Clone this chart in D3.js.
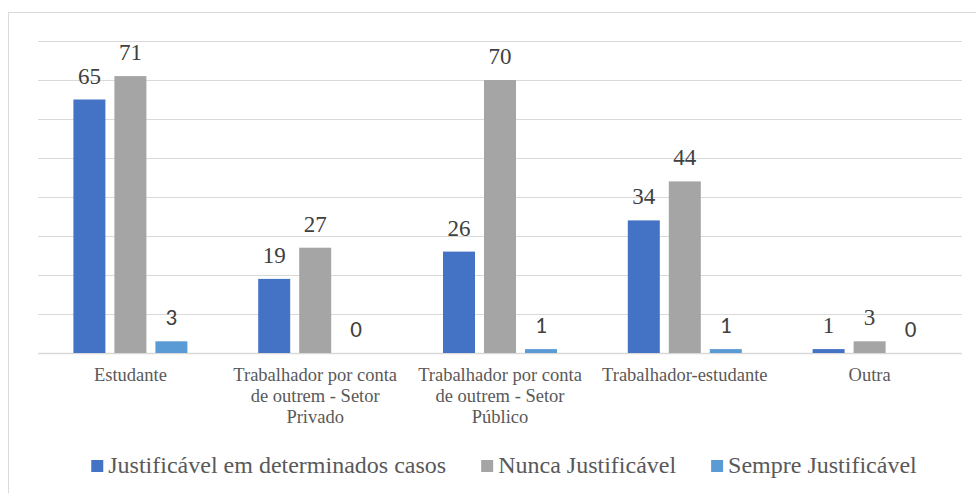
<!DOCTYPE html>
<html><head><meta charset="utf-8">
<script src="https://cdn.jsdelivr.net/npm/d3@7"></script>
<style>
body{margin:0;background:#fff;}
svg{display:block;font-family:"Liberation Serif","Times New Roman",serif;}
svg text.sans{font-family:Carlito,Calibri,sans-serif;}
</style>
</head><body>
<svg id="c" width="976" height="493"></svg>
<script>
const categories = ["Estudante","Trabalhador por conta de outrem - Setor Privado","Trabalhador por conta de outrem - Setor Público","Trabalhador-estudante","Outra"];
const seriesNames = ["Justificável em determinados casos","Nunca Justificável","Sempre Justificável"];
const justificavel = [65,19,26,34,1];
const nunca = [71,27,70,44,3];
const sempre = [3,0,1,1,0];
const yTicks = [0,10,20,30,40,50,60,70,80];
const colors = ["#4472C4","#A5A5A5","#5B9BD5"];

const seriesValues = [justificavel, nunca, sempre];
const svg = d3.select("#c");
const plot = {l:38, r:962, t:41, b:353};

svg.append("rect").attr("x",8.5).attr("y",12.5).attr("width",1000).attr("height",600)
  .attr("fill","none").attr("stroke","#D9D9D9").attr("stroke-width",1);

const y = d3.scaleLinear().domain([0,80]).range([plot.b, plot.t]);
const x0 = d3.scaleBand().domain(categories).range([plot.l, plot.r]).paddingInner(0).paddingOuter(0);
const groupW = 114;
const x1 = d3.scaleBand().domain(d3.range(3)).range([0, groupW]).paddingInner(9/41).paddingOuter(0);
const off = (x0.bandwidth()-groupW)/2;

svg.append("g").selectAll("line").data(yTicks).join("line")
  .attr("x1",plot.l).attr("x2",plot.r)
  .attr("y1",d=>Math.round(y(d))+0.5).attr("y2",d=>Math.round(y(d))+0.5)
  .attr("stroke","#D9D9D9").attr("stroke-width",d=>d===0?1.5:1.2);

const groups = svg.append("g").selectAll("g").data(categories).join("g")
  .attr("transform",c=>`translate(${x0(c)+off},0)`);
groups.each(function(c,ci){
  const g = d3.select(this);
  const data = seriesValues.map((s,si)=>({si, v:s[ci]}));
  g.selectAll("rect").data(data).join("rect")
    .attr("x",d=>x1(d.si)).attr("width",x1.bandwidth())
    .attr("y",d=>y(d.v)).attr("height",d=>y(0)-y(d.v))
    .attr("fill",d=>colors[d.si]);
  g.selectAll("text").data(data).join("text")
    .attr("class",d=>d.si===2?"sans":null)
    .attr("x",d=>x1(d.si)+x1.bandwidth()/2)
    .attr("y",d=>y(d.v)-16)
    .attr("text-anchor","middle")
    .attr("font-size",23)
    .attr("fill","#404040")
    .text(d=>d.v);
});

const catG = svg.append("g");
categories.forEach(c=>{
  const cx = x0(c)+x0.bandwidth()/2;
  const t = catG.append("text")
    .attr("x",cx).attr("y",381)
    .attr("text-anchor","middle")
    .attr("font-size",18.5).attr("fill","#595959");
  const words = c.split(" ");
  let line=[];
  let ts = t.append("tspan").attr("x",cx).attr("dy",0);
  words.forEach(w=>{
    line.push(w);
    ts.text(line.join(" "));
    if(ts.node().getComputedTextLength()>172 && line.length>1){
      line.pop(); ts.text(line.join(" "));
      line=[w];
      ts = t.append("tspan").attr("x",cx).attr("dy",21).text(w);
    }
  });
});

const leg = svg.append("g");
const items = seriesNames.map((n,i)=>{
  const g = leg.append("g");
  g.append("rect").attr("width",12).attr("height",12).attr("y",-13).attr("fill",colors[i]);
  const t = g.append("text").attr("x",17).attr("y",0)
    .attr("font-size",24).attr("fill","#595959").text(n);
  return {g, w:17+t.node().getComputedTextLength()};
});
const gap = 35;
const total = d3.sum(items,d=>d.w)+gap*(items.length-1);
let lx = 504-total/2;
items.forEach(it=>{ it.g.attr("transform",`translate(${lx},473)`); lx+=it.w+gap; });
</script>
</body></html>
